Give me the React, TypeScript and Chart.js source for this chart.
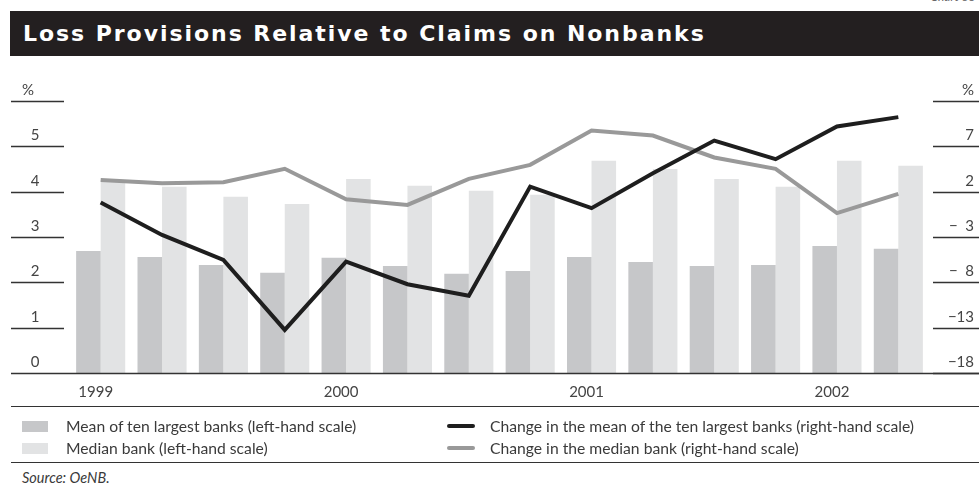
import React, { useEffect, useRef } from "react";
import { Chart, registerables } from "chart.js";

Chart.register(...registerables);

const categories = [
  "1999 Q1", "1999 Q2", "1999 Q3", "1999 Q4",
  "2000 Q1", "2000 Q2", "2000 Q3", "2000 Q4",
  "2001 Q1", "2001 Q2", "2001 Q3", "2001 Q4",
  "2002 Q1", "2002 Q2",
];
const yearLabels = ["1999", "2000", "2001", "2002"];
const yearLabelIndex = [0, 4, 8, 12];

const meanTop10 = [2.69, 2.56, 2.38, 2.21, 2.54, 2.36, 2.19, 2.25, 2.56, 2.45, 2.36, 2.38, 2.8, 2.74];
const medianBank = [4.26, 4.11, 3.89, 3.73, 4.28, 4.13, 4.02, 3.93, 4.68, 4.5, 4.28, 4.11, 4.68, 4.57];
const changeMean = [0.8, -2.77, -5.53, -13.25, -5.72, -8.21, -9.47, 2.56, 0.18, 4.04, 7.64, 5.58, 9.19, 10.22];
const changeMedian = [3.3, 2.94, 3.05, 4.52, 1.17, 0.54, 3.41, 4.96, 8.75, 8.19, 5.77, 4.52, -0.37, 1.76];

const leftTicks = [0, 1, 2, 3, 4, 5, 6];
const leftTickLabels = ["0", "1", "2", "3", "4", "5", "%"];
const rightTicks = [-18, -13, -8, -3, 2, 7, 12];
const rightTickLabels = ["\u221218", "\u221213", "\u2212  8", "\u2212  3", "2", "7", "%"];

const legendBars = [
  { label: "Mean of ten largest banks (left-hand scale)", color: "#c6c7c9" },
  { label: "Median bank (left-hand scale)", color: "#e2e3e4" },
];
const legendLines = [
  { label: "Change in the mean of the ten largest banks (right-hand scale)", color: "#1e1e1e" },
  { label: "Change in the median bank (right-hand scale)", color: "#999999" },
];

const FONT = "Lato, 'Open Sans', sans-serif";
const TEXT = "#3a3a3a";

const axisPlugin = {
  id: "oenbAxes",
  afterDatasetsDraw(chart: any) {
    const ctx = chart.ctx;
    const yL = chart.scales.yL;
    const yR = chart.scales.yR;
    const x = chart.scales.x;
    ctx.save();
    ctx.font = `15px ${FONT}`;
    ctx.fillStyle = "#444";
    ctx.textBaseline = "alphabetic";
    // left ticks
    leftTicks.forEach((v, i) => {
      const y = Math.round(yL.getPixelForValue(v)) + 0.5;
      ctx.strokeStyle = "#333";
      ctx.lineWidth = 1.3;
      ctx.beginPath();
      if (v === 0) {
        ctx.moveTo(11, y);
        ctx.lineTo(979, y);
      } else {
        ctx.moveTo(11, y);
        ctx.lineTo(64, y);
      }
      ctx.stroke();
      ctx.textAlign = "center";
      ctx.fillText(leftTickLabels[i], i === leftTicks.length - 1 ? 28 : 35, y - 7);
    });
    // right ticks
    rightTicks.forEach((v, i) => {
      const y = Math.round(yR.getPixelForValue(v)) + 0.5;
      ctx.strokeStyle = "#333";
      ctx.lineWidth = 1.3;
      ctx.beginPath();
      ctx.moveTo(933, y);
      ctx.lineTo(979, y);
      ctx.stroke();
      ctx.textAlign = "right";
      ctx.fillText(rightTickLabels[i], 974, y - 7);
    });
    // year labels
    ctx.textAlign = "center";
    yearLabelIndex.forEach((idx, i) => {
      const px = x.getPixelForValue(idx) - 5;
      const py = yL.getPixelForValue(0) + 24;
      ctx.fillText(yearLabels[i], px, py);
    });
    ctx.restore();
  },
};

function ChartCanvas() {
  const ref = useRef<HTMLCanvasElement | null>(null);
  useEffect(() => {
    if (!ref.current) return;
    const chart = new Chart(ref.current, {
      type: "bar",
      data: {
        labels: categories,
        datasets: [
          {
            type: "line",
            label: legendLines[0].label,
            data: changeMean,
            yAxisID: "yR",
            borderColor: legendLines[0].color,
            borderWidth: 4,
            pointRadius: 0,
            tension: 0,
            order: 0,
          } as any,
          {
            type: "line",
            label: legendLines[1].label,
            data: changeMedian,
            yAxisID: "yR",
            borderColor: legendLines[1].color,
            borderWidth: 4,
            pointRadius: 0,
            tension: 0,
            order: 1,
          } as any,
          {
            type: "bar",
            label: legendBars[0].label,
            data: meanTop10,
            yAxisID: "yL",
            backgroundColor: legendBars[0].color,
            categoryPercentage: 0.8,
            barPercentage: 1.0,
            order: 2,
          },
          {
            type: "bar",
            label: legendBars[1].label,
            data: medianBank,
            yAxisID: "yL",
            backgroundColor: legendBars[1].color,
            categoryPercentage: 0.8,
            barPercentage: 1.0,
            order: 3,
          },
        ],
      },
      options: {
        responsive: false,
        animation: false,
        devicePixelRatio: 1,
        layout: { padding: { left: 70, right: 50, top: 41, bottom: 47 } },
        plugins: { legend: { display: false }, tooltip: { enabled: false } },
        scales: {
          x: { display: false, offset: true },
          yL: { display: false, position: "left", min: 0, max: 6 },
          yR: { display: false, position: "right", min: -18, max: 12 },
        },
      },
      plugins: [axisPlugin],
    });
    return () => chart.destroy();
  }, []);
  return (
    <canvas
      ref={ref}
      width={979}
      height={360}
      style={{ position: "absolute", left: 0, top: 60, width: 979, height: 360 }}
    />
  );
}

export default function App() {
  return (
    <div
      style={{
        position: "absolute",
        left: 0,
        top: 0,
        width: 979,
        height: 492,
        overflow: "hidden",
        background: "#fff",
        fontFamily: FONT,
        color: TEXT,
      }}
    >
      <div
        style={{
          position: "absolute",
          right: 4,
          top: -11,
          fontSize: 12,
          fontStyle: "italic",
          color: "#666",
        }}
      >
        Chart 36
      </div>
      <div
        style={{
          position: "absolute",
          left: 10,
          top: 11,
          width: 969,
          height: 45,
          background: "#231f20",
        }}
      >
        <div
          style={{
            position: "absolute",
            left: 13,
            top: 10,
            fontSize: 22,
            lineHeight: "26px",
            fontFamily: "'DejaVu Sans', sans-serif",
            fontWeight: 700,
            letterSpacing: 1.95,
            color: "#fff",
            whiteSpace: "nowrap",
          }}
        >
          Loss Provisions Relative to Claims on Nonbanks
        </div>
      </div>
      <ChartCanvas />
      <div style={{ position: "absolute", left: 11, right: 0, top: 406, height: 0, borderTop: "1.5px solid #333" }} />
      <div style={{ position: "absolute", left: 11, right: 0, top: 462, height: 0, borderTop: "1.5px solid #333" }} />
      {legendBars.map((b, i) => (
        <div key={b.label}>
          <div
            style={{
              position: "absolute",
              left: 22,
              top: 421 + i * 22,
              width: 26,
              height: 11,
              background: b.color,
            }}
          />
          <div
            style={{
              position: "absolute",
              left: 66,
              top: 416 + i * 22,
              fontSize: 15.7,
              whiteSpace: "nowrap",
              lineHeight: "20px",
            }}
          >
            {b.label}
          </div>
        </div>
      ))}
      {legendLines.map((l, i) => (
        <div key={l.label}>
          <div
            style={{
              position: "absolute",
              left: 447,
              top: 424 + i * 22,
              width: 28,
              height: 4,
              borderRadius: 2,
              background: l.color,
            }}
          />
          <div
            style={{
              position: "absolute",
              left: 490,
              top: 416 + i * 22,
              fontSize: 15.7,
              whiteSpace: "nowrap",
              lineHeight: "20px",
            }}
          >
            {l.label}
          </div>
        </div>
      ))}
      <div
        style={{
          position: "absolute",
          left: 22,
          top: 469,
          fontSize: 14.5,
          fontStyle: "italic",
          whiteSpace: "nowrap",
        }}
      >
        Source: OeNB.
      </div>
    </div>
  );
}
